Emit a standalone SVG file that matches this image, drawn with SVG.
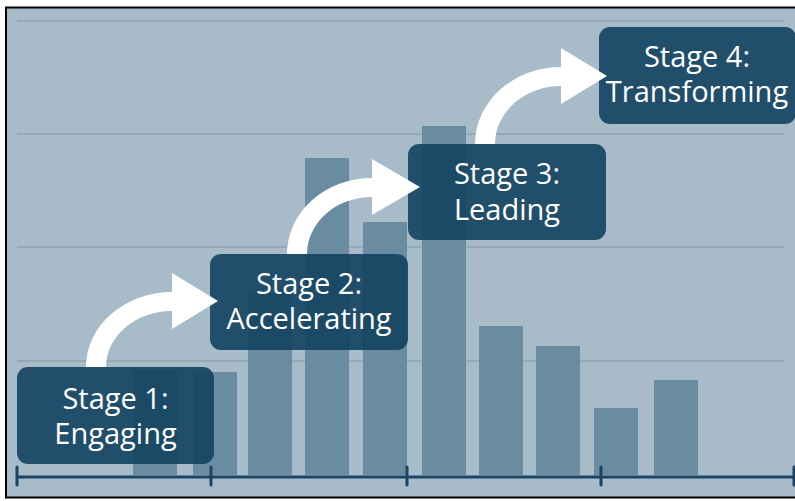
<svg xmlns="http://www.w3.org/2000/svg" width="795" height="501" viewBox="0 0 795 501">
<style>
.grid{stroke:#91a4b0;stroke-width:1.5}
.bar{fill:#6a8ca0}
.axis{stroke:#1a4566;stroke-width:3;stroke-linecap:round}
.box{fill:#13425f;fill-opacity:0.9}
.lbl{font-family:"Open Sans","Noto Sans",sans-serif;font-size:29px;fill:#ffffff;text-anchor:middle}
.arrow{fill:#ffffff}
</style>
<rect x="0" y="0" width="795" height="501" fill="#ffffff"/>
<rect x="6" y="7.5" width="800" height="490" fill="#a7bbc8" stroke="#000000" stroke-width="2"/>
<g id="grid">
<line class="grid" x1="17" y1="21" x2="784" y2="21"/>
<line class="grid" x1="17" y1="134" x2="784" y2="134"/>
<line class="grid" x1="17" y1="247" x2="784" y2="247"/>
<line class="grid" x1="17" y1="361" x2="784" y2="361"/>
</g>
<g id="bars">
<rect class="bar" x="133" y="370" width="44" height="105"/>
<rect class="bar" x="193" y="372" width="44" height="103"/>
<rect class="bar" x="248" y="293" width="44" height="182"/>
<rect class="bar" x="305" y="158" width="44" height="317"/>
<rect class="bar" x="363" y="222" width="44" height="253"/>
<rect class="bar" x="422" y="126" width="44" height="349"/>
<rect class="bar" x="479" y="326" width="44" height="149"/>
<rect class="bar" x="536" y="346" width="44" height="129"/>
<rect class="bar" x="594" y="408" width="44" height="67"/>
<rect class="bar" x="654" y="380" width="44" height="95"/>
</g>
<g id="axis">
<line class="axis" x1="17" y1="477" x2="800" y2="477"/>
<line class="axis" x1="17" y1="467" x2="17" y2="485"/>
<line class="axis" x1="211" y1="467" x2="211" y2="485"/>
<line class="axis" x1="407" y1="467" x2="407" y2="485"/>
<line class="axis" x1="601" y1="467" x2="601" y2="485"/>
<line class="axis" x1="794" y1="467" x2="794" y2="485"/>
</g>
<g id="stage1">
<rect class="box" x="17" y="367" width="197" height="97" rx="11"/>
<text class="lbl" x="115.5" y="409">Stage 1:</text>
<text class="lbl" x="115.5" y="444">Engaging</text>
</g>
<g id="stage2">
<rect class="box" x="210" y="254" width="198" height="96" rx="11"/>
<text class="lbl" x="309" y="294">Stage 2:</text>
<text class="lbl" x="309" y="329">Accelerating</text>
</g>
<g id="stage3">
<rect class="box" x="408" y="144" width="198" height="96" rx="11"/>
<text class="lbl" x="507" y="184">Stage 3:</text>
<text class="lbl" x="507" y="220">Leading</text>
</g>
<g id="stage4">
<rect class="box" x="599" y="27" width="197" height="97" rx="11"/>
<text class="lbl" x="697" y="67">Stage 4:</text>
<text class="lbl" x="697" y="102">Transforming</text>
</g>
<g id="connectors">
<path class="arrow" d="M 86 367 A 86 75 0 0 1 172 292 L 172 273 L 218 301 L 172 329 L 172 311 A 66 56 0 0 0 106 367 Z"/>
<path class="arrow" d="M 287 254 A 85 76 0 0 1 372 178 L 372 159 L 420 187 L 372 215 L 372 197 A 65 57 0 0 0 307 254 Z"/>
<path class="arrow" d="M 475 144 A 86 77 0 0 1 561 67 L 561 48 L 607 76 L 561 104 L 561 86 A 66 58 0 0 0 495 144 Z"/>
</g>
</svg>
